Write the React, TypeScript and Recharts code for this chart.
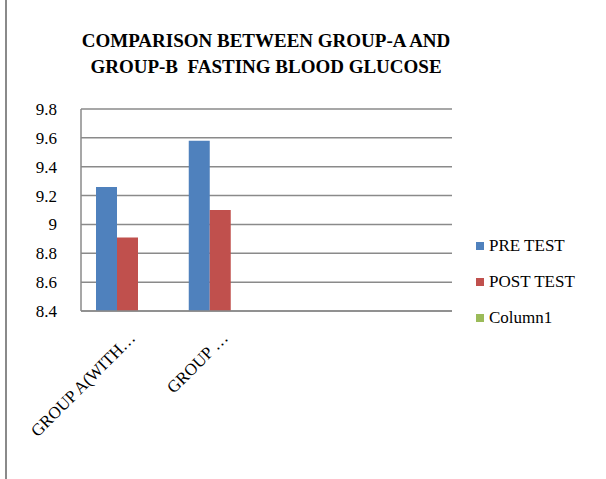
import React from "react";
import { BarChart, Bar, XAxis, YAxis, CartesianGrid } from "recharts";

const categories = ["GROUP A(WITH…", "GROUP …", "", ""];
const preTest = [9.26, 9.58, null, null];
const postTest = [8.91, 9.1, null, null];
const column1 = [null, null, null, null];
const yTicks = [8.4, 8.6, 8.8, 9, 9.2, 9.4, 9.6, 9.8];

const series = [
  { key: "pre", name: "PRE TEST", color: "#4F81BD" },
  { key: "post", name: "POST TEST", color: "#C0504D" },
  { key: "col1", name: "Column1", color: "#9BBB59" },
];

const data = categories.map((name, i) => ({
  name,
  pre: preTest[i],
  post: postTest[i],
  col1: column1[i],
}));

const FONT = "'Liberation Serif', 'Times New Roman', serif";
const GRID = "#8a8a8a";

function CategoryTick({ x, y, payload }: any) {
  if (!payload.value) return null;
  return (
    <text
      x={x + 9}
      y={y + 20}
      transform={`rotate(-45 ${x + 9} ${y + 20})`}
      textAnchor="end"
      fontFamily={FONT}
      fontSize={17}
      fill="#000"
    >
      {payload.value}
    </text>
  );
}

export default function App() {
  return (
    <div
      style={{
        position: "absolute",
        left: 0,
        top: 0,
        width: 606,
        height: 479,
        background: "#fff",
        overflow: "hidden",
        fontFamily: FONT,
      }}
    >
      <div
        style={{
          position: "absolute",
          left: 5,
          top: 0,
          width: 2,
          height: 479,
          background: GRID,
        }}
      />
      <div
        style={{
          position: "absolute",
          left: 66,
          width: 400,
          top: 28,
          textAlign: "center",
          fontWeight: "bold",
          fontSize: 19,
          lineHeight: "26px",
          whiteSpace: "pre",
          color: "#000",
        }}
      >
        {"COMPARISON BETWEEN GROUP-A AND\nGROUP-B  FASTING BLOOD GLUCOSE"}
      </div>
      <div
        style={{
          position: "absolute",
          left: 476,
          top: 228,
          fontSize: 17,
          color: "#000",
        }}
      >
        {series.map((s) => (
          <div
            key={s.key}
            style={{ display: "flex", alignItems: "center", height: 36 }}
          >
            <span
              style={{
                width: 8,
                height: 8,
                background: s.color,
                display: "inline-block",
                marginRight: 5,
              }}
            />
            <span>{s.name}</span>
          </div>
        ))}
      </div>
      <BarChart
        width={606}
        height={479}
        data={data}
        margin={{ top: 109, right: 154, bottom: 0, left: 0 }}
        barGap={0}
        barSize={21}
        style={{ position: "absolute", left: 0, top: 0 }}
      >
        <CartesianGrid vertical={false} stroke={GRID} strokeWidth={1.5} />
        <XAxis
          dataKey="name"
          height={168}
          axisLine={{ stroke: GRID, strokeWidth: 1.5 }}
          tickLine={false}
          interval={0}
          tick={<CategoryTick />}
        />
        <YAxis
          width={81}
          domain={[8.4, 9.8]}
          ticks={yTicks}
          interval={0}
          axisLine={{ stroke: GRID, strokeWidth: 1.5 }}
          tickLine={false}
          tickSize={0}
          tickMargin={24}
          tick={{ fontFamily: FONT, fontSize: 17, fill: "#000" }}
          tickFormatter={(v: number) => String(v)}
        />
        {series.map((s) => (
          <Bar
            key={s.key}
            dataKey={s.key}
            name={s.name}
            fill={s.color}
            isAnimationActive={false}
          />
        ))}
      </BarChart>
    </div>
  );
}
